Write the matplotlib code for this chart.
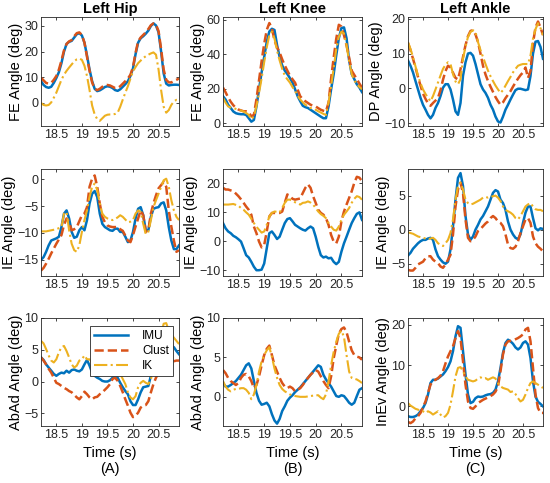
import numpy as np
import matplotlib
matplotlib.use("Agg")
import matplotlib.pyplot as plt

plt.rcParams['font.family'] = ['Liberation Sans Narrow', 'Liberation Sans', 'DejaVu Sans']

# time samples (s)
t = np.round(np.arange(18.2, 20.901, 0.05), 2)

series_names = ["IMU", "Clust", "IK"]
col_titles = ["Left Hip", "Left Knee", "Left Ankle"]
panel_letters = ["(A)", "(B)", "(C)"]
row_labels = [["FE Angle (deg)", "FE Angle (deg)", "DP Angle (deg)"],
              ["IE Angle (deg)", "IE Angle (deg)", "IE Angle (deg)"],
              ["AbAd Angle (deg)", "AbAd Angle (deg)", "InEv Angle (deg)"]]

# ---- Row 1: flexion/extension ----
hip_fe_imu = [8.5, 7.0, 6.2, 5.9, 6.3, 7.8, 9.7, 12.0, 15.5, 20.0,
              23.0, 23.8, 24.2, 25.5, 26.8, 27.2, 26.3, 23.5, 18.5, 13.0,
              8.5, 5.5, 4.6, 4.9, 5.5, 6.2, 6.5, 6.3, 5.8, 5.0,
              4.7, 5.3, 6.3, 7.3, 8.5, 10.5, 13.5, 19.0, 23.5, 25.2,
              26.0, 27.0, 28.2, 30.0, 31.0, 30.2, 27.5, 20.0, 11.5, 7.5,
              6.8, 7.0, 7.1, 7.1, 7.0]
hip_fe_clust = [9.8, 8.8, 7.8, 7.5, 7.8, 9.0, 10.5, 13.0, 16.5, 20.5,
                23.0, 24.0, 24.5, 26.0, 27.2, 27.5, 26.5, 23.5, 18.0, 12.5,
                8.0, 5.5, 5.0, 5.5, 6.3, 7.0, 7.0, 6.8, 6.3, 5.8,
                5.8, 6.5, 7.5, 8.5, 9.5, 11.0, 14.0, 19.5, 24.0, 25.5,
                26.5, 27.5, 28.8, 30.3, 31.0, 30.5, 28.0, 21.0, 13.0, 9.0,
                8.0, 8.0, 8.5, 9.0, 9.5]
hip_fe_ik = [0.0, -0.8, -1.0, -0.8, 0.2, 2.0, 4.0, 6.5, 9.0, 11.0,
             12.5, 13.8, 15.0, 16.2, 17.0, 17.3, 16.8, 14.5, 10.5, 5.0,
             -1.0, -4.5, -6.3, -7.0, -6.0, -5.0, -4.6, -4.5, -4.5, -4.3,
             -3.8, -1.5, 1.3, 4.0, 6.5, 9.5, 12.3, 14.0, 15.5, 16.5,
             17.5, 18.2, 18.8, 19.3, 19.7, 18.8, 13.0, 5.0, -1.5, -3.8,
             -2.8, -0.8, 0.6, 1.2, 1.0]

knee_fe_imu = [15.7, 13.8, 10.8, 8.9, 6.9, 5.9, 5.5, 5.3, 5.3, 4.9,
               3.0, 1.0, 2.0, 9.8, 19.7, 29.5, 38.4, 47.2, 53.1, 54.7,
               54.0, 45.3, 38.4, 33.5, 30.5, 28.5, 26.2, 23.6, 19.7, 15.7,
               12.8, 10.2, 9.4, 8.9, 7.9, 6.9, 5.9, 4.9, 3.9, 3.0,
               3.0, 9.8, 19.7, 28.5, 39.4, 49.2, 55.1, 55.5, 49.2, 36.4,
               28.5, 25.6, 22.6, 20.7, 18.1]
knee_fe_clust = [20.7, 18.0, 15.0, 12.5, 10.5, 9.0, 8.0, 7.5, 7.0, 7.0,
                 6.5, 4.0, 5.0, 14.0, 25.0, 36.0, 46.0, 54.0, 58.0, 55.0,
                 48.0, 44.0, 41.0, 37.0, 33.5, 30.5, 27.6, 25.5, 23.5, 19.5,
                 15.7, 14.0, 12.8, 11.8, 10.8, 10.2, 9.8, 8.8, 7.9, 7.3,
                 6.9, 12.0, 26.0, 38.0, 49.0, 57.0, 56.0, 51.0, 45.0, 38.0,
                 30.5, 28.0, 25.6, 23.0, 20.7]
knee_fe_ik = [14.8, 12.0, 9.8, 9.2, 8.9, 8.4, 7.9, 7.4, 6.9, 6.0,
              4.9, 2.4, 4.0, 10.0, 17.7, 26.0, 35.4, 44.0, 51.0, 53.0,
              49.0, 42.0, 36.4, 31.5, 27.6, 25.5, 23.6, 21.0, 18.7, 16.0,
              13.8, 12.2, 10.8, 9.8, 8.9, 8.4, 7.9, 7.0, 6.3, 5.5,
              4.9, 12.0, 21.6, 32.0, 43.0, 50.0, 53.0, 52.0, 45.0, 36.0,
              28.5, 25.0, 22.6, 21.0, 19.7]

ankle_dp_imu = [8.0, 6.5, 4.6, 2.1, -0.3, -2.7, -4.7, -6.1, -7.6, -8.6,
                -7.6, -5.6, -4.2, -2.2, 0.2, 1.2, 1.2, -0.3, -3.2, -6.6,
                -7.6, -4.2, 3.6, 7.5, 10.0, 10.2, 9.4, 7.0, 4.1, 1.2,
                -0.3, -1.3, -2.7, -4.7, -6.1, -8.1, -9.5, -9.8, -8.1, -6.1,
                -4.7, -3.2, -1.8, -0.5, -0.1, -0.1, -0.3, -0.5, -0.3, 3.6,
                10.0, 13.4, 13.6, 11.9, 8.5]
ankle_dp_clust = [13.0, 11.0, 8.5, 6.0, 3.3, 0.8, -1.5, -3.0, -4.3, -5.0,
                  -4.2, -3.5, -2.7, -0.5, 2.5, 5.0, 6.5, 6.0, 4.5, 3.0,
                  2.6, 5.5, 9.0, 12.4, 15.0, 16.5, 16.7, 15.5, 13.3, 10.0,
                  6.5, 4.0, 2.1, 0.5, -1.0, -2.5, -3.7, -4.7, -4.0, -2.8,
                  -1.8, -0.8, 0.5, 1.7, 2.8, 3.8, 4.6, 6.0, 3.0, 5.0,
                  13.0, 17.5, 19.2, 17.5, 15.3]
ankle_dp_ik = [13.3, 11.3, 9.0, 6.3, 3.6, 1.5, -0.3, -1.6, -2.7, -3.7,
               -2.2, -0.3, 1.7, 3.7, 5.6, 6.8, 7.5, 7.0, 4.1, 2.0,
               1.2, 2.6, 8.5, 12.0, 14.8, 16.2, 16.7, 16.2, 13.3, 11.0,
               9.0, 7.0, 5.1, 3.5, 2.1, 0.8, -0.3, -1.3, -0.5, 0.8,
               2.1, 3.3, 4.6, 5.6, 6.5, 6.8, 7.0, 7.0, 7.0, 9.4,
               14.3, 17.0, 18.7, 17.3, 15.3]

# ---- Row 2: internal/external rotation ----
hip_ie_imu = [-15.0, -14.5, -13.5, -12.3, -11.4, -11.2, -11.0, -10.7, -8.9, -6.4,
              -5.8, -7.3, -9.8, -10.9, -10.7, -9.5, -8.9, -9.5, -7.6, -4.5,
              -2.7, -2.2, -3.3, -6.4, -8.3, -8.9, -9.2, -9.5, -9.6, -9.2,
              -9.2, -9.8, -9.8, -10.7, -11.7, -11.4, -9.8, -7.3, -5.5, -5.2,
              -6.7, -9.5, -9.5, -7.0, -5.5, -5.3, -5.2, -4.5, -4.3, -5.8,
              -8.9, -11.4, -13.0, -13.0, -12.3]
hip_ie_clust = [-17.0, -16.5, -15.7, -14.8, -13.8, -12.9, -12.0, -11.2, -10.4, -8.5,
                -7.3, -8.0, -9.5, -9.3, -8.9, -7.8, -6.7, -6.4, -5.2, -1.4,
                0.1, 0.7, -1.4, -4.5, -7.0, -8.0, -8.6, -8.8, -8.9, -8.9,
                -8.9, -9.3, -9.6, -10.5, -11.4, -11.7, -10.4, -8.8, -7.3, -5.8,
                -6.7, -9.8, -9.5, -6.4, -4.5, -3.0, -1.7, -1.1, -0.5, -1.4,
                -5.8, -8.8, -11.4, -13.5, -13.2]
hip_ie_ik = [-9.7, -9.7, -9.7, -9.6, -9.5, -9.4, -9.3, -9.1, -8.9, -6.4,
             -6.1, -9.5, -12.0, -13.2, -13.5, -12.3, -9.8, -7.6, -5.8, -3.3,
             -1.4, -0.8, -2.0, -4.5, -6.4, -7.0, -7.3, -7.5, -7.6, -7.4,
             -7.1, -6.7, -7.0, -7.5, -8.0, -7.9, -7.6, -6.4, -5.8, -6.1,
             -8.3, -10.2, -9.8, -7.6, -5.2, -3.9, -2.7, -1.4, -0.2, 0.1,
             -1.4, -3.9, -5.8, -7.0, -7.6]

knee_ie_imu = [6.3, 4.5, 3.4, 2.8, 1.9, 1.4, 0.7, -0.1, -2.4, -4.8,
               -5.6, -7.1, -8.8, -10.0, -10.0, -9.8, -7.7, -2.4, 2.8, 3.4,
               2.2, 0.8, 1.6, 4.0, 6.3, 7.7, 8.0, 6.9, 5.7, 5.1,
               4.5, 4.0, 3.7, 4.5, 5.1, 4.5, 1.6, -1.9, -4.8, -5.6,
               -5.3, -5.9, -5.7, -7.1, -7.9, -7.1, -3.6, -0.7, 1.6, 4.0,
               6.3, 8.0, 9.5, 10.0, 7.4]
knee_ie_clust = [18.5, 17.9, 17.9, 17.6, 17.3, 16.5, 15.6, 14.5, 13.3, 12.0,
                 10.9, 9.2, 5.1, 2.8, -0.1, -2.1, -1.3, 3.4, 8.6, 9.8,
                 9.8, 9.8, 9.8, 10.3, 13.3, 16.2, 15.6, 14.7, 14.4, 14.6,
                 14.8, 16.7, 18.5, 19.7, 18.5, 15.6, 13.3, 10.9, 9.8, 9.2,
                 8.0, 5.7, 2.2, -0.1, -0.7, 1.6, 6.9, 10.3, 12.7, 15.0,
                 17.3, 20.2, 22.3, 22.0, 20.8]
knee_ie_ik = [12.7, 12.7, 12.7, 12.8, 12.9, 12.6, 12.3, 11.5, 10.9, 10.0,
              9.2, 7.8, 6.3, 5.0, 4.0, 3.0, 3.4, 5.7, 8.6, 9.8,
              10.3, 10.2, 10.0, 11.5, 13.3, 14.4, 14.4, 14.0, 13.5, 13.1,
              12.7, 13.3, 13.4, 13.8, 13.4, 12.7, 11.5, 10.3, 9.4, 8.8,
              8.0, 6.3, 5.1, 4.0, 3.7, 5.1, 7.4, 9.2, 10.3, 11.5,
              13.3, 14.7, 15.6, 15.3, 14.4]

ankle_ie_imu = [-3.8, -3.4, -2.8, -2.4, -2.0, -1.7, -1.5, -1.5, -1.3, -1.2,
                -1.5, -2.9, -3.9, -4.4, -4.8, -5.0, -4.7, -2.9, 0.5, 4.4,
                7.6, 8.3, 6.4, 2.0, -0.7, -1.5, -1.0, 0.0, 0.7, 1.5,
                2.0, 2.7, 3.4, 4.4, 5.4, 5.8, 5.6, 4.4, 3.9, 2.9,
                1.2, 0.0, -0.7, -1.2, -1.4, -0.7, 1.0, 2.5, 3.4, 3.4,
                1.7, 0.2, -0.1, 0.2, 0.1]
ankle_ie_clust = [-5.9, -6.0, -6.0, -5.6, -5.1, -4.9, -4.7, -4.2, -3.9, -3.9,
                  -4.4, -4.7, -4.9, -5.4, -5.6, -5.1, -4.4, -3.7, -0.7, 3.4,
                  5.9, 6.9, 5.4, 1.5, -1.2, -1.7, -1.5, -1.0, -0.2, 0.1,
                  0.5, 0.9, 1.2, 1.7, 2.0, 1.7, 1.2, 1.0, 0.5, -0.7,
                  -2.2, -2.7, -2.8, -2.5, -1.7, -0.5, 0.5, 1.5, 1.7, 1.0,
                  -1.0, -2.0, -2.5, -2.8, -3.2]
ankle_ie_ik = [-0.4, -0.5, -0.6, -0.8, -1.0, -1.1, -1.2, -1.3, -1.4, -1.3,
               -1.2, -1.5, -2.0, -2.2, -2.4, -2.0, -1.5, -0.5, 1.5, 4.4,
               6.4, 6.9, 5.9, 4.4, 3.9, 3.7, 3.8, 4.0, 4.2, 4.4,
               4.7, 4.8, 4.7, 4.8, 4.9, 5.0, 4.7, 4.2, 3.4, 2.9,
               2.7, 2.5, 2.2, 1.7, 1.5, 2.0, 2.7, 3.4, 3.7, 3.9,
               3.4, 3.0, 2.9, 2.9, 2.7]

# ---- Row 3: abduction/adduction, inversion/eversion ----
hip_abad_imu = [3.8, 3.4, 2.7, 2.2, 1.7, 1.2, 0.9, 1.2, 1.4, 1.3,
                1.7, 1.4, 1.8, 1.9, 1.7, 1.6, 1.9, 2.7, 3.4, 2.5,
                1.4, 0.9, 0.6, 0.4, 0.1, 0.0, 0.0, 0.2, 0.6, 1.1,
                0.6, -0.2, -0.9, -1.5, -2.0, -3.1, -3.7, -3.7, -2.8, -1.7,
                -0.9, -0.8, -0.7, 0.9, 3.3, 4.8, 5.6, 5.9, 5.9, 5.8,
                5.6, 5.6, 5.4, 4.8, 4.3]
hip_abad_clust = [3.8, 3.3, 2.7, 2.0, 1.4, 0.6, -0.2, -0.4, -0.7, -1.0,
                  -1.2, -1.5, -1.7, -2.1, -2.5, -2.8, -2.3, -1.6, -2.0, -2.5,
                  -2.8, -2.5, -2.4, -2.0, -1.7, -1.3, -0.9, -0.4, 0.4, 0.6,
                  0.1, -0.7, -1.7, -2.8, -3.8, -4.9, -5.6, -5.4, -4.9, -4.1,
                  -3.8, -3.7, -3.1, -1.7, -0.4, 0.6, 1.4, 2.1, 2.7, 3.0,
                  3.2, 3.2, 3.2, 3.3, 3.3]
hip_abad_ik = [6.4, 6.0, 5.1, 4.1, 3.3, 3.0, 3.5, 4.6, 5.4, 5.6,
               4.8, 3.8, 2.7, 2.2, 2.5, 3.3, 3.5, 4.1, 3.5, 3.5,
               3.0, 2.7, 2.5, 2.3, 2.3, 2.4, 2.5, 2.5, 2.5, 2.3,
               2.0, 1.2, 0.4, -0.4, -1.7, -2.5, -2.8, -2.3, -0.9, -0.2,
               0.1, -0.2, -0.4, 0.4, 1.7, 3.5, 5.0, 7.5, 9.1, 9.2,
               8.0, 7.4, 6.9, 6.4, 5.9]

knee_abad_imu = [1.75, 1.3, 1.3, 1.5, 1.75, 2.0, 2.4, 2.8, 3.4, 4.0,
                 4.25, 3.6, 2.0, 0.5, -0.5, -1.0, -0.9, -0.75, -1.2, -2.2,
                 -3.0, -3.4, -2.8, -1.8, -1.2, -0.5, -0.1, 0.2, 0.6, 0.9,
                 1.2, 1.6, 2.0, 2.4, 2.8, 3.2, 3.6, 4.0, 3.8, 2.8,
                 2.2, 1.75, 1.3, 0.7, 0.1, 0.0, 0.2, 0.1, -0.3, -0.75,
                 -1.0, -0.75, 0.1, 0.9, 1.1]
knee_abad_clust = [3.4, 3.0, 2.4, 2.0, 1.75, 1.5, 1.75, 2.4, 2.8, 2.9,
                   2.6, 2.0, 1.1, 1.5, 2.6, 4.0, 5.3, 6.1, 6.5, 5.3,
                   4.0, 3.2, 2.4, 1.75, 1.3, 1.1, 1.3, 1.1, 0.7, 0.9,
                   1.1, 1.5, 2.0, 2.4, 2.8, 3.1, 3.4, 3.2, 2.6, 2.0,
                   1.5, 1.1, 2.6, 4.9, 6.5, 8.0, 8.6, 8.8, 8.2, 7.0,
                   5.9, 5.3, 5.1, 5.0, 4.7]
knee_abad_ik = [2.0, 1.3, 0.9, 0.7, 0.9, 1.0, 1.0, 1.1, 1.1, 0.9,
                0.5, -0.3, 0.3, 1.5, 3.2, 4.5, 5.3, 5.9, 6.3, 5.1,
                3.6, 2.4, 1.5, 1.0, 0.7, 0.5, 0.3, 0.2, 0.1, 0.05,
                0.0, 0.0, 0.0, 0.05, 0.1, 0.15, 0.2, 0.2, -0.1, -0.3,
                0.3, 2.0, 4.0, 5.7, 7.0, 8.0, 8.4, 7.6, 5.3, 3.2,
                2.4, 2.3, 2.2, 2.0, 1.75]

ankle_inev_imu = [-2.4, -2.6, -2.6, -2.4, -2.0, -1.2, -0.4, 0.8, 2.9, 5.7,
                  6.5, 6.5, 6.8, 7.3, 7.8, 8.6, 9.6, 11.0, 13.5, 17.1,
                  19.6, 19.2, 13.5, 7.8, 2.9, 0.8, 1.1, 2.0, 2.4, 2.3,
                  2.4, 2.7, 2.9, 3.0, 3.3, 4.1, 6.1, 9.4, 13.1, 15.5,
                  16.3, 15.9, 15.3, 14.4, 13.9, 14.4, 15.5, 15.9, 15.1, 11.8,
                  6.1, 2.4, 1.1, 0.6, 0.0]
ankle_inev_clust = [-3.8, -4.1, -3.7, -2.9, -2.4, -1.6, -0.2, 1.2, 3.3, 5.3,
                    6.2, 6.5, 6.9, 7.5, 8.6, 10.5, 12.2, 13.5, 14.7, 16.7,
                    18.4, 16.7, 11.0, 5.3, 1.2, -0.4, -0.6, 0.0, 0.8, 1.2,
                    1.6, 1.9, 2.2, 2.5, 2.9, 3.6, 4.9, 8.6, 12.7, 15.1,
                    15.9, 16.0, 16.1, 16.4, 16.7, 17.1, 17.6, 18.8, 19.2, 15.9,
                    9.4, 2.9, -0.4, -1.6, -1.6]
ankle_inev_ik = [0.8, 0.2, -0.2, -0.6, -0.8, -1.1, -1.2, -1.6, -1.2, -1.5,
                 -2.0, -1.6, -1.2, -2.0, -2.7, -2.4, -1.6, 0.4, 3.7, 7.3,
                 9.4, 9.6, 8.6, 7.3, 6.5, 6.3, 6.1, 6.3, 6.8, 7.1,
                 6.8, 6.9, 6.5, 6.8, 7.1, 6.8, 5.7, 4.9, 4.5, 4.3,
                 4.1, 3.5, 3.7, 3.0, 2.0, 1.2, 1.6, 2.9, 4.5, 5.7,
                 6.1, 5.7, 5.3, 4.9, 4.5]

panels = [
    [(hip_fe_imu, hip_fe_clust, hip_fe_ik), (knee_fe_imu, knee_fe_clust, knee_fe_ik),
     (ankle_dp_imu, ankle_dp_clust, ankle_dp_ik)],
    [(hip_ie_imu, hip_ie_clust, hip_ie_ik), (knee_ie_imu, knee_ie_clust, knee_ie_ik),
     (ankle_ie_imu, ankle_ie_clust, ankle_ie_ik)],
    [(hip_abad_imu, hip_abad_clust, hip_abad_ik), (knee_abad_imu, knee_abad_clust, knee_abad_ik),
     (ankle_inev_imu, ankle_inev_clust, ankle_inev_ik)],
]

ylims = [[(-9, 33.5), (-1.5, 61.5), (-10.8, 20.5)],
         [(-18, 1.9), (-12, 25), (-6.8, 8.9)],
         [(-7, 10), (-3.7, 10), (-4.8, 21.6)]]
yticks = [[[0, 10, 20, 30], [0, 20, 40, 60], [-10, 0, 10, 20]],
          [[-15, -10, -5, 0], [-10, 0, 10, 20], [-5, 0, 5]],
          [[-5, 0, 5, 10], [0, 5, 10], [0, 10, 20]]]
xticks = [18.5, 19, 19.5, 20, 20.5]
xticklabels = ["18.5", "19", "19.5", "20", "20.5"]

colors = ["#0072BD", "#D95319", "#EDB120"]
styles = ["-", "--", "-."]
widths = [1.8, 1.8, 1.5]

W, H = 550, 483
col_px = [(41, 179), (223, 362), (408, 543)]
row_px = [(17, 126), (169, 276), (318, 426)]

fig = plt.figure(figsize=(5.5, 4.83), dpi=100)
axc = "#262626"
for r in range(3):
    for c in range(3):
        x0, x1 = col_px[c]
        y0, y1 = row_px[r]
        ax = fig.add_axes([x0 / W, 1 - y1 / H, (x1 - x0) / W, (y1 - y0) / H])
        handles = []
        for k in range(3):
            h, = ax.plot(t, panels[r][c][k], styles[k], color=colors[k], lw=widths[k],
                         label=series_names[k])
            handles.append(h)
        ax.set_xlim(18.2, 20.9)
        ax.set_ylim(*ylims[r][c])
        ax.set_yticks(yticks[r][c])
        ax.set_xticks(xticks)
        ax.set_xticklabels(xticklabels)
        ax.tick_params(direction="in", length=2.5, width=0.6, labelsize=9,
                       colors=axc, top=True, right=True, pad=2)
        for s in ax.spines.values():
            s.set_color(axc)
            s.set_linewidth(0.6)
        ax.set_ylabel(row_labels[r][c], fontsize=10.5, labelpad=1, color="black")
        if r == 0:
            ax.set_title(col_titles[c], fontsize=10.5, fontweight="bold", pad=3,
                         family=['Liberation Sans', 'DejaVu Sans'])
        if r == 2:
            ax.text(0.5, -0.25, "Time (s)", transform=ax.transAxes, ha="center",
                    va="center", fontsize=10.5, family=['Liberation Sans', 'DejaVu Sans'])
            ax.text(0.5, -0.40, panel_letters[c], transform=ax.transAxes, ha="center",
                    va="center", fontsize=10.5, family=['Liberation Sans', 'DejaVu Sans'])
        if r == 2 and c == 0:
            leg = ax.legend(handles=handles, loc="upper right", bbox_to_anchor=(0.957, 0.926),
                            fontsize=8.5, handlelength=2.9, handletextpad=1.2,
                            labelspacing=0.25, borderpad=0.35, borderaxespad=0,
                            fancybox=False, framealpha=1, edgecolor=axc,
                            prop={'family': ['Liberation Sans', 'DejaVu Sans'], 'size': 8.5})
            leg.get_frame().set_linewidth(0.6)

fig.savefig("out.png", dpi=100)
